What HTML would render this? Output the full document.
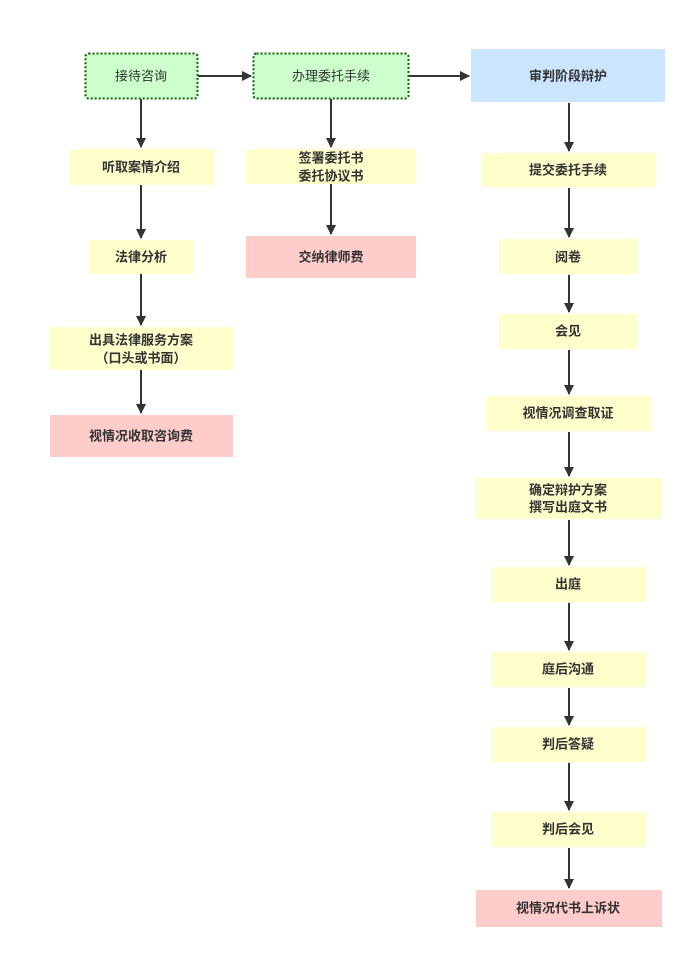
<!DOCTYPE html>
<html><head><meta charset="utf-8"><style>
html,body{margin:0;padding:0;background:#fff;}
svg{display:block}
text{font-family:"Liberation Sans","Noto Sans CJK SC",sans-serif;font-size:13px;fill:#333;text-anchor:middle;dominant-baseline:central}
.b{font-weight:bold}
</style></head><body>
<svg width="698" height="959" viewBox="0 0 698 959" xmlns="http://www.w3.org/2000/svg">
<defs><marker id="a" markerWidth="10" markerHeight="10" refX="9" refY="5" orient="auto" markerUnits="userSpaceOnUse"><path d="M0,0 L10,5 L0,10 Z" fill="#333"/></marker></defs>
<g fill="#ffffcc">
<rect x="69" y="149" width="145" height="36"/>
<rect x="89" y="240" width="104" height="34"/>
<rect x="49" y="327" width="184" height="43"/>
<rect x="246" y="149" width="170" height="35"/>
<rect x="481" y="153" width="174" height="34"/>
<rect x="499" y="239" width="138" height="35"/>
<rect x="499" y="314" width="138" height="35"/>
<rect x="486" y="396" width="165" height="35"/>
<rect x="475" y="478" width="187" height="41"/>
<rect x="491" y="567" width="155" height="35"/>
<rect x="491" y="652" width="155" height="35"/>
<rect x="491" y="727" width="155" height="35"/>
<rect x="491" y="812" width="155" height="35"/>
</g>
<g fill="#ffcccc">
<rect x="50" y="415" width="183" height="42"/>
<rect x="246" y="236" width="170" height="42"/>
<rect x="476" y="890" width="186" height="37"/>
</g>
<rect x="471" y="49" width="194" height="53" fill="#cce5ff"/>
<rect x="85.5" y="53.5" width="112" height="45" rx="3" fill="#ccffcc" stroke="#006600" stroke-width="2" stroke-dasharray="2,2"/>
<rect x="253.5" y="53.5" width="155" height="45" rx="3" fill="#ccffcc" stroke="#006600" stroke-width="2" stroke-dasharray="2,2"/>
<g stroke="#333" stroke-width="2" marker-end="url(#a)">
<line x1="198" y1="76" x2="251" y2="76"/>
<line x1="409" y1="76" x2="469" y2="76"/>
<line x1="141" y1="99" x2="141" y2="147"/>
<line x1="141" y1="185" x2="141" y2="238"/>
<line x1="141" y1="274" x2="141" y2="325"/>
<line x1="141" y1="370" x2="141" y2="413"/>
<line x1="331" y1="99" x2="331" y2="147"/>
<line x1="331" y1="184" x2="331" y2="234"/>
<line x1="569" y1="103" x2="569" y2="151"/>
<line x1="569" y1="188" x2="569" y2="237"/>
<line x1="569" y1="275" x2="569" y2="312"/>
<line x1="569" y1="350" x2="569" y2="394"/>
<line x1="569" y1="432" x2="569" y2="476"/>
<line x1="569" y1="520" x2="569" y2="565"/>
<line x1="569" y1="603" x2="569" y2="650"/>
<line x1="569" y1="688" x2="569" y2="725"/>
<line x1="569" y1="763" x2="569" y2="810"/>
<line x1="569" y1="848" x2="569" y2="888"/>
</g>
<text x="141" y="76">接待咨询</text>
<text x="331" y="76">办理委托手续</text>
<text class="b" x="568" y="76">审判阶段辩护</text>
<text class="b" x="141" y="167">听取案情介绍</text>
<text class="b" x="141" y="257">法律分析</text>
<text class="b" x="141" y="340">出具法律服务方案</text>
<text class="b" x="141" y="358">（口头或书面）</text>
<text class="b" x="141" y="436">视情况收取咨询费</text>
<text class="b" x="331" y="158">签署委托书</text>
<text class="b" x="331" y="176">委托协议书</text>
<text class="b" x="331" y="257">交纳律师费</text>
<text class="b" x="568" y="170">提交委托手续</text>
<text class="b" x="568" y="257">阅卷</text>
<text class="b" x="568" y="331">会见</text>
<text class="b" x="568" y="413">视情况调查取证</text>
<text class="b" x="568" y="490">确定辩护方案</text>
<text class="b" x="568" y="507">撰写出庭文书</text>
<text class="b" x="568" y="584">出庭</text>
<text class="b" x="568" y="669">庭后沟通</text>
<text class="b" x="568" y="744">判后答疑</text>
<text class="b" x="568" y="829">判后会见</text>
<text class="b" x="568" y="908">视情况代书上诉状</text>
</svg>
</body></html>
